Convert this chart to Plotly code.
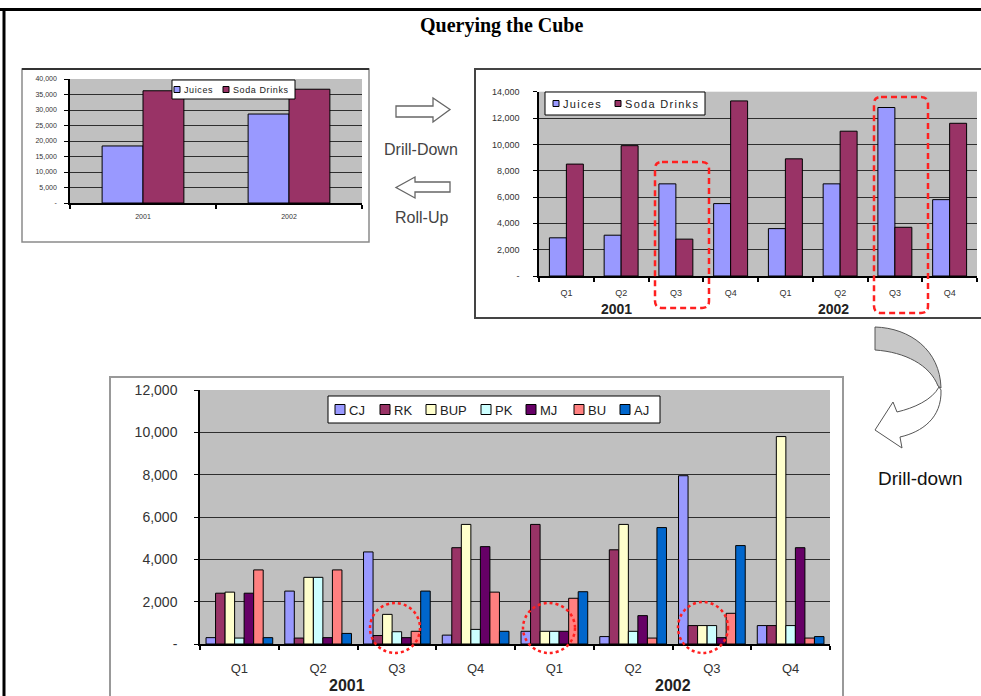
import re
import plotly.graph_objects as go

W, H = 981, 696

# ---- data -------------------------------------------------------------
years = ["2001", "2002"]
annual_juices = [18400, 28700]
annual_soda = [36200, 36700]

quarters = ["Q1", "Q2", "Q3", "Q4", "Q1", "Q2", "Q3", "Q4"]
q_juices = [2900, 3100, 7000, 5500, 3600, 7000, 12800, 5800]
q_soda = [8500, 9900, 2800, 13300, 8900, 11000, 3700, 11600]

products = ["CJ", "RK", "BUP", "PK", "MJ", "BU", "AJ"]
cj = [300, 2500, 4350, 420, 600, 350, 7950, 870]
rk = [2400, 280, 400, 4550, 5650, 4450, 870, 870]
bup = [2450, 3150, 1400, 5650, 600, 5650, 870, 9800]
pk = [280, 3150, 580, 690, 600, 600, 870, 870]
mj = [2400, 300, 300, 4600, 600, 1340, 300, 4550]
bu = [3500, 3500, 600, 2450, 2160, 280, 1450, 280]
aj = [300, 500, 2500, 600, 2470, 5500, 4650, 350]
product_values = [cj, rk, bup, pk, mj, bu, aj]

y1_ticks = list(range(0, 40001, 5000))
y2_ticks = list(range(0, 14001, 2000))
y3_ticks = list(range(0, 12001, 2000))

# ---- styling ----------------------------------------------------------
JUICE = "#9999ff"
SODA = "#993366"
product_colors = ["#9999ff", "#993366", "#ffffcc", "#ccffff",
                  "#660066", "#ff8080", "#0066cc"]
SANS = "Liberation Sans"
SERIF = "Liberation Serif"


def px(x, y):
    return x / W, 1 - y / H


def px_path(s):
    out, nums = [], []
    for tok in re.findall(r"[MLCQZ]|-?\d+(?:\.\d+)?", s):
        if tok.isalpha():
            out.append(tok)
        else:
            nums.append(float(tok))
            if len(nums) == 2:
                x, y = px(*nums)
                out.append(f"{x:.5f},{y:.5f}")
                nums = []
    return " ".join(out)


def rounded_rect(x0, y0, x1, y1, r):
    return (f"M {x0+r} {y0} L {x1-r} {y0} Q {x1} {y0} {x1} {y0+r} "
            f"L {x1} {y1-r} Q {x1} {y1} {x1-r} {y1} L {x0+r} {y1} "
            f"Q {x0} {y1} {x0} {y1-r} L {x0} {y0+r} Q {x0} {y0} {x0+r} {y0} Z")


def fmt(v):
    return "-" if v == 0 else f"{v:,}"


def dom_x(a, b):
    return [a / W, b / W]


def dom_y(top, bottom):
    return [1 - bottom / H, 1 - top / H]


fig = go.Figure()

# ---- annual chart ------------------------------------------------------
bw1 = 0.28
fig.add_trace(go.Bar(x=[0, 1], y=annual_juices, name="Juices", width=bw1,
                     offset=-bw1, marker=dict(color=JUICE, line=dict(color="black", width=1)),
                     xaxis="x", yaxis="y"))
fig.add_trace(go.Bar(x=[0, 1], y=annual_soda, name="Soda Drinks", width=bw1,
                     offset=0, marker=dict(color=SODA, line=dict(color="black", width=1)),
                     xaxis="x", yaxis="y"))

# ---- quarterly chart ---------------------------------------------------
idx = list(range(len(quarters)))
bw2 = 0.31
fig.add_trace(go.Bar(x=idx, y=q_juices, name="Juices", width=bw2, offset=-bw2,
                     marker=dict(color=JUICE, line=dict(color="black", width=1)),
                     xaxis="x2", yaxis="y2"))
fig.add_trace(go.Bar(x=idx, y=q_soda, name="Soda Drinks", width=bw2, offset=0,
                     marker=dict(color=SODA, line=dict(color="black", width=1)),
                     xaxis="x2", yaxis="y2"))

# ---- product chart -----------------------------------------------------
bw3 = 0.121
start3 = -bw3 * len(products) / 2
for i, (name, vals, col) in enumerate(zip(products, product_values, product_colors)):
    fig.add_trace(go.Bar(x=idx, y=vals, name=name, width=bw3, offset=start3 + i * bw3,
                         marker=dict(color=col, line=dict(color="black", width=1)),
                         xaxis="x3", yaxis="y3"))


def xaxis_cfg(domain, anchor, n, labels, font_size, standoff):
    return dict(domain=domain, anchor=anchor, range=[-0.5, n - 0.5],
                tickmode="array", tickvals=list(range(n)), ticktext=labels,
                ticks="", showgrid=False, zeroline=False,
                showline=True, linecolor="black", linewidth=1.5,
                tickfont=dict(family=SANS, size=font_size, color="#333"),
                ticklabelstandoff=standoff,
                minor=dict(tickmode="array", tickvals=[k - 0.5 for k in range(n + 1)],
                           ticks="outside", ticklen=4, tickcolor="black",
                           tickwidth=1.5, showgrid=False))


def yaxis_cfg(domain, anchor, ticks, font_size, standoff):
    return dict(domain=domain, anchor=anchor, range=[0, ticks[-1]],
                tickmode="array", tickvals=ticks, ticktext=[fmt(v) for v in ticks],
                ticks="outside", ticklen=4, tickcolor="black",
                showgrid=True, gridcolor="#2e2e2e", gridwidth=1.3, zeroline=False,
                showline=True, linecolor="black", linewidth=1.5,
                tickfont=dict(family=SANS, size=font_size, color="#333"),
                ticklabelstandoff=standoff)


fig.update_layout(
    width=W, height=H,
    margin=dict(l=0, r=0, t=0, b=0, pad=0, autoexpand=False),
    paper_bgcolor="white", plot_bgcolor="#c0c0c0",
    barmode="overlay", showlegend=False,
    xaxis=xaxis_cfg(dom_x(70, 362), "y", 2, years, 7, 6),
    yaxis=yaxis_cfg(dom_y(79, 203), "x", y1_ticks, 7, 6),
    xaxis2=xaxis_cfg(dom_x(539, 977), "y2", len(quarters), quarters, 9, 7),
    yaxis2=yaxis_cfg(dom_y(91.7, 276), "x2", y2_ticks, 9, 12),
    xaxis3=xaxis_cfg(dom_x(200, 830), "y3", len(quarters), quarters, 13, 12),
    yaxis3=yaxis_cfg(dom_y(390, 644), "x3", y3_ticks, 14, 14),
)

shapes = []
annotations = []


def line_px(x0, y0, x1, y1, color, width):
    a, b = px(x0, y0)
    c, d = px(x1, y1)
    shapes.append(dict(type="line", xref="paper", yref="paper", x0=a, y0=b,
                       x1=c, y1=d, line=dict(color=color, width=width)))


def rect_px(x0, y0, x1, y1, fill, color, width):
    a, b = px(x0, y1)
    c, d = px(x1, y0)
    shapes.append(dict(type="rect", xref="paper", yref="paper", x0=a, y0=b, x1=c, y1=d,
                       fillcolor=fill, line=dict(color=color, width=width)))


def text_px(x, y, s, size, family=SANS, color="#333", bold=False, anchor="center"):
    a, b = px(x, y)
    annotations.append(dict(xref="paper", yref="paper", x=a, y=b,
                            text=f"<b>{s}</b>" if bold else s,
                            showarrow=False, xanchor=anchor, yanchor="middle",
                            font=dict(family=family, size=size, color=color)))


def legend_box(box, names, colors, swatch_x, swatch, font_size, spacing=None):
    x0, y0, x1, y1 = box
    rect_px(x0, y0, x1, y1, "white", "black", 1)
    cy = (y0 + y1) / 2
    for name, col, sx in zip(names, colors, swatch_x):
        rect_px(sx, cy - swatch / 2, sx + swatch, cy + swatch / 2, col, "black", 1)
        label = name
        if spacing:
            label = f'<span style="letter-spacing:{spacing}px">{name}</span>'
        text_px(sx + swatch + 1.5, cy + 0.5, label, font_size, color="#222", anchor="left")


# outer page frame
line_px(0, 9.5, W, 9.5, "black", 3)
line_px(4, 9, 4, H, "black", 3)

# chart frames
shapes.append(dict(type="path", xref="paper", yref="paper",
                   path=px_path("M 22 69 L 369 69 L 369 242 L 22 242 Z"),
                   line=dict(color="#8a8a8a", width=1.5), layer="below"))
line_px(22, 69, 369, 69, "#333", 2)
shapes.append(dict(type="path", xref="paper", yref="paper",
                   path=px_path("M 985 69 L 475 69 L 475 318 L 985 318"),
                   line=dict(color="#444", width=2), layer="below"))
shapes.append(dict(type="path", xref="paper", yref="paper",
                   path=px_path("M 110 700 L 110 377 L 843 377 L 843 700"),
                   line=dict(color="#999", width=2), layer="below"))

# legends
legend_box((172, 80, 295, 99), ["Juices", "Soda Drinks"], [JUICE, SODA],
           [174, 223], 6, 9, spacing=0.6)
legend_box((545, 92, 705, 115), ["Juices", "Soda Drinks"], [JUICE, SODA],
           [553, 615], 6, 11, spacing=1.3)
legend_box((328, 396, 660, 423), products, product_colors,
           [335, 380, 426, 481, 526, 574, 620], 10, 13)

# drill-down / roll-up arrows
arrow_line = dict(color="#666", width=1.3)
shapes.append(dict(type="path", xref="paper", yref="paper", fillcolor="white",
                   path=px_path("M 396 106 L 433 106 L 433 98 L 450 109.5 L 433 122 L 433 117 L 396 117 Z"),
                   line=arrow_line))
shapes.append(dict(type="path", xref="paper", yref="paper", fillcolor="white",
                   path=px_path("M 450 182 L 415 182 L 415 177 L 396 187.5 L 415 198 L 415 192 L 450 192 Z"),
                   line=arrow_line))

# curved drill-down arrow
shapes.append(dict(type="path", xref="paper", yref="paper", fillcolor="#c8c8c8",
                   path=px_path("M 875 327 C 910 328 940 350 941 388 L 938 386 C 930 365 905 352 875 350 Z"),
                   line=dict(color="#555", width=1)))
shapes.append(dict(type="path", xref="paper", yref="paper", fillcolor="white",
                   path=px_path("M 939 387 C 932 400 914 408 897 412 L 893 402 L 875 430 L 902 448 "
                                "L 900 437 C 922 432 942 418 941 390 Z"),
                   line=dict(color="#555", width=1)))

# highlighted quarters (red dashed boxes)
red_dash = dict(color="#ff2020", width=2.5, dash="6px,4px")
for box in [(655, 162, 709, 308), (874, 97, 928, 313)]:
    shapes.append(dict(type="path", xref="paper", yref="paper",
                       path=px_path(rounded_rect(*box, 7)), line=red_dash))

# highlighted product groups (red dotted circles)
for cx0, cy0, cx1, cy1 in [(370, 603, 420, 653), (523, 603, 575, 653), (678, 602, 728, 653)]:
    a, b = px(cx0, cy1)
    c, d = px(cx1, cy0)
    shapes.append(dict(type="circle", xref="paper", yref="paper", x0=a, y0=b, x1=c, y1=d,
                       line=dict(color="#ff2020", width=2.5, dash="dot")))

# ---- text --------------------------------------------------------------
text_px(501, 25, "Querying the Cube", 20, family=SERIF, color="black", bold=True)
text_px(421, 150, "Drill-Down", 16, color="#444")
text_px(421, 218, "Roll-Up", 16, color="#444")
text_px(920, 478, "Drill-down", 19, color="#111")

# year group labels under the quarter axes
for xv, yr in [(0.92, years[0]), (4.87, years[1])]:
    annotations.append(dict(xref="x2", yref="paper", x=xv, y=1 - 309 / H, text=f"<b>{yr}</b>",
                            showarrow=False, xanchor="center", yanchor="middle",
                            font=dict(family=SANS, size=14, color="#222")))
for xv, yr in [(1.37, years[0]), (5.5, years[1])]:
    annotations.append(dict(xref="x3", yref="paper", x=xv, y=1 - 685 / H, text=f"<b>{yr}</b>",
                            showarrow=False, xanchor="center", yanchor="middle",
                            font=dict(family=SANS, size=16, color="#222")))

fig.update_layout(shapes=shapes, annotations=annotations)

fig.write_html("out.html")
